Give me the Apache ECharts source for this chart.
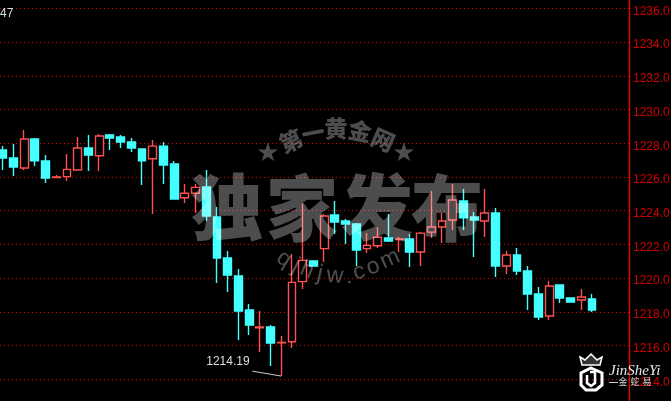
<!DOCTYPE html>
<html><head><meta charset="utf-8">
<style>html,body{margin:0;padding:0;background:#000}#c{width:671px;height:401px}</style>
<script src="https://cdn.jsdelivr.net/npm/echarts@6/dist/echarts.min.js"></script>
</head><body><div id="c"></div>
<script>
// Each candle: [open, close, low, high]
const candlesA = [
[1227.60,1227.12,1226.41,1227.83],[1227.12,1226.59,1226.06,1227.95],[1226.53,1228.25,1226.41,1228.78],[1228.25,1226.95,1226.65,1228.31],
[1226.95,1225.94,1225.64,1227.30],[1225.96,1226.00,1225.94,1226.11],[1226.02,1226.45,1225.76,1227.36],[1226.41,1227.72,1226.41,1228.37],
[1227.72,1227.30,1226.35,1228.49],[1227.26,1228.43,1226.35,1228.55],[1228.49,1228.31,1227.60,1228.55],[1228.37,1228.07,1227.72,1228.49],
[1228.07,1227.72,1227.48,1228.31],[1227.66,1226.95,1225.52,1227.66],[1227.08,1227.83,1223.80,1228.19],[1227.83,1226.71,1225.58,1228.07],
[1226.77,1224.69,1224.69,1226.95],[1224.77,1225.03,1224.45,1225.58],[1225.03,1225.38,1223.86,1225.58],[1225.40,1223.68,1223.39,1226.41]];
const candlesB = [
[1223.62,1221.19,1219.71,1224.22],[1221.19,1220.18,1219.18,1221.61],[1220.13,1218.05,1216.33,1220.54],[1218.11,1217.22,1216.63,1218.46],
[1217.06,1217.10,1215.62,1218.05],[1217.10,1216.15,1214.79,1217.22],[1216.17,1216.19,1214.19,1216.57],[1216.23,1219.75,1215.86,1221.43],
[1219.79,1221.05,1219.36,1224.43],[1221.02,1220.72,1220.72,1221.02],[1221.75,1223.68,1220.96,1223.80],[1223.74,1223.33,1222.62,1224.57],
[1223.39,1223.21,1222.02,1223.51],[1223.21,1221.67,1220.72,1223.27],[1221.75,1221.94,1221.49,1222.68],[1221.92,1222.42,1221.79,1223.03],
[1222.38,1222.20,1222.14,1223.80],[1222.28,1222.32,1221.55,1222.44],[1222.32,1221.55,1220.66,1222.62]];
const candlesC = [
[1221.55,1222.67,1220.72,1222.73],[1222.73,1223.03,1222.38,1225.17],[1223.03,1223.39,1222.08,1223.86],[1223.45,1224.63,1222.85,1225.58],
[1224.57,1223.57,1222.85,1225.28],[1223.62,1223.45,1221.25,1223.92],[1223.39,1223.86,1222.44,1225.28],[1223.86,1220.72,1220.07,1224.16],
[1220.72,1221.37,1220.24,1221.61],[1221.37,1220.42,1220.18,1221.79],[1220.42,1219.06,1218.11,1220.72],[1219.06,1217.69,1217.52,1219.47],
[1217.75,1219.53,1217.52,1219.83],[1219.59,1218.82,1218.52,1219.59],[1218.82,1218.58,1218.58,1218.82],[1218.70,1218.88,1218.11,1219.35],
[1218.76,1218.11,1217.99,1219.06]];
const emptySlots = ['-','-','-'];
const lowLabel = '1214.19';
const lowIndex = 26;
const lowValue = 1214.19;
const cornerLabel = '47';
const mainMark = ['独','家','发','布'];
const arcMark = ['第','一','黄','金','网'];
const urlMark = ['q','j','h','j','w','.','c','o','m'];
const logoLatin = 'JinSheYi';
const logoHan = ['金','蛇','易'];

const values = candlesA.concat(candlesB, candlesC, emptySlots);
const categories = values.map((_, i) => String(i));
const RED = '#ff5050', CYAN = '#44ffff', AXIS = '#d00000', WM = 'rgba(255,255,255,0.3)';

const chart = echarts.init(document.getElementById('c'), null, {renderer:'canvas'});
chart.setOption({
  animation:false, backgroundColor:'#000',
  grid:{left:-2.66, right:41.5, top:-25.43, bottom:-12.03, containLabel:false, outerBoundsMode:'none'},
  xAxis:{type:'category', data:categories, show:false, boundaryGap:true},
  yAxis:{type:'value', position:'right', min:1212, max:1238, interval:2, scale:true,
    axisLine:{show:true, lineStyle:{color:'#e00000', width:1.4}},
    axisTick:{show:false},
    axisLabel:{color:AXIS, fontFamily:'Liberation Sans', fontSize:12, margin:3.5, verticalAlign:'top', lineHeight:6,
      formatter:v=>v.toFixed(1)},
    splitLine:{show:true, lineStyle:{color:'#e00000', width:1, type:[1,3], dashOffset:1.34}}},
  series:[{type:'candlestick', data:values, barWidth:8.4, clip:false,
    itemStyle:{color:'#000', color0:CYAN, borderColor:RED, borderColor0:CYAN, borderWidth:1.4}}]
});

const low = chart.convertToPixel({xAxisIndex:0,yAxisIndex:0},[lowIndex,lowValue]);
const g = [];
const wmText = (t,x,y,size,rot,font,weight) => g.push({type:'text', z:100, x, y, rotation:(rot||0)*Math.PI/180,
  style:{text:t, fill:WM, font:`${weight||'normal'} ${size}px ${font}`, textAlign:'center', textVerticalAlign:'middle'}});
const cjk = '"Noto Sans CJK SC"';
[[227,207],[302,208],[377,207],[447,208]].forEach((p,i)=>wmText(mainMark[i],p[0],p[1],72,0,cjk,900));
[[291,141,24],[313,133,11],[336,128,0],[360,131,-11],[383,140,-24]].forEach((p,i)=>wmText(arcMark[i],p[0],p[1],23,p[2],cjk,900));
wmText('★',268,154,26,0,'DejaVu Sans'); wmText('★',404,154,26,0,'DejaVu Sans');
[[284,259,-32],[296,266,-27],[307,270,-22],[320,274,-13],[335,276,-4],[349,277,4],[359,272,12],[373,267,18],[390,259,24]]
  .forEach((p,i)=>wmText(urlMark[i],p[0],p[1],23,p[2],'Liberation Sans'));

// low-point annotation
g.push({type:'text', z:50, x:low[0]-75, y:low[1]-14, style:{text:lowLabel, fill:'#dddddd', font:'12px "Liberation Sans"', textVerticalAlign:'middle'}});
g.push({type:'polyline', z:50, shape:{points:[[low[0]-29,low[1]-5],[low[0],low[1]]]}, style:{stroke:'#cccccc', fill:null, lineWidth:1}});
g.push({type:'text', z:50, x:0, y:13.5, style:{text:cornerLabel, fill:'#dddddd', font:'12px "Liberation Sans"', textVerticalAlign:'middle'}});

// logo
g.push({type:'polygon', z:110, shape:{points:[[591,368],[602,373],[602,385],[596,390],[586,390],[581,385],[581,373]]}, style:{fill:null, stroke:'#fff', lineWidth:3}});
g.push({type:'polyline', z:111, shape:{points:[[590,372],[595,372],[595,383],[591,386],[587,383],[587,375]]}, style:{stroke:'#fff', fill:null, lineWidth:2.5}});
g.push({type:'polygon', z:110, shape:{points:[[580,357],[585,360],[591,354],[597,360],[602,357],[600,365],[582,365]]}, style:{fill:'#333', stroke:'#fff', lineWidth:1.5}});
g.push({type:'text', z:110, x:609, y:371, style:{text:logoLatin, fill:'#e8e8e8', font:'italic 15px "Liberation Serif"', textVerticalAlign:'middle'}});
g.push({type:'line', z:110, shape:{x1:609,y1:382.5,x2:618,y2:382.5}, style:{stroke:'#d0d0d0', lineWidth:1}});
[623,635,647].forEach((x,i)=>g.push({type:'text', z:110, x, y:382, style:{text:logoHan[i], fill:'#d0d0d0', font:'9px "Noto Sans CJK SC"', textAlign:'center', textVerticalAlign:'middle'}}));
chart.setOption({graphic:g});
</script></body></html>
